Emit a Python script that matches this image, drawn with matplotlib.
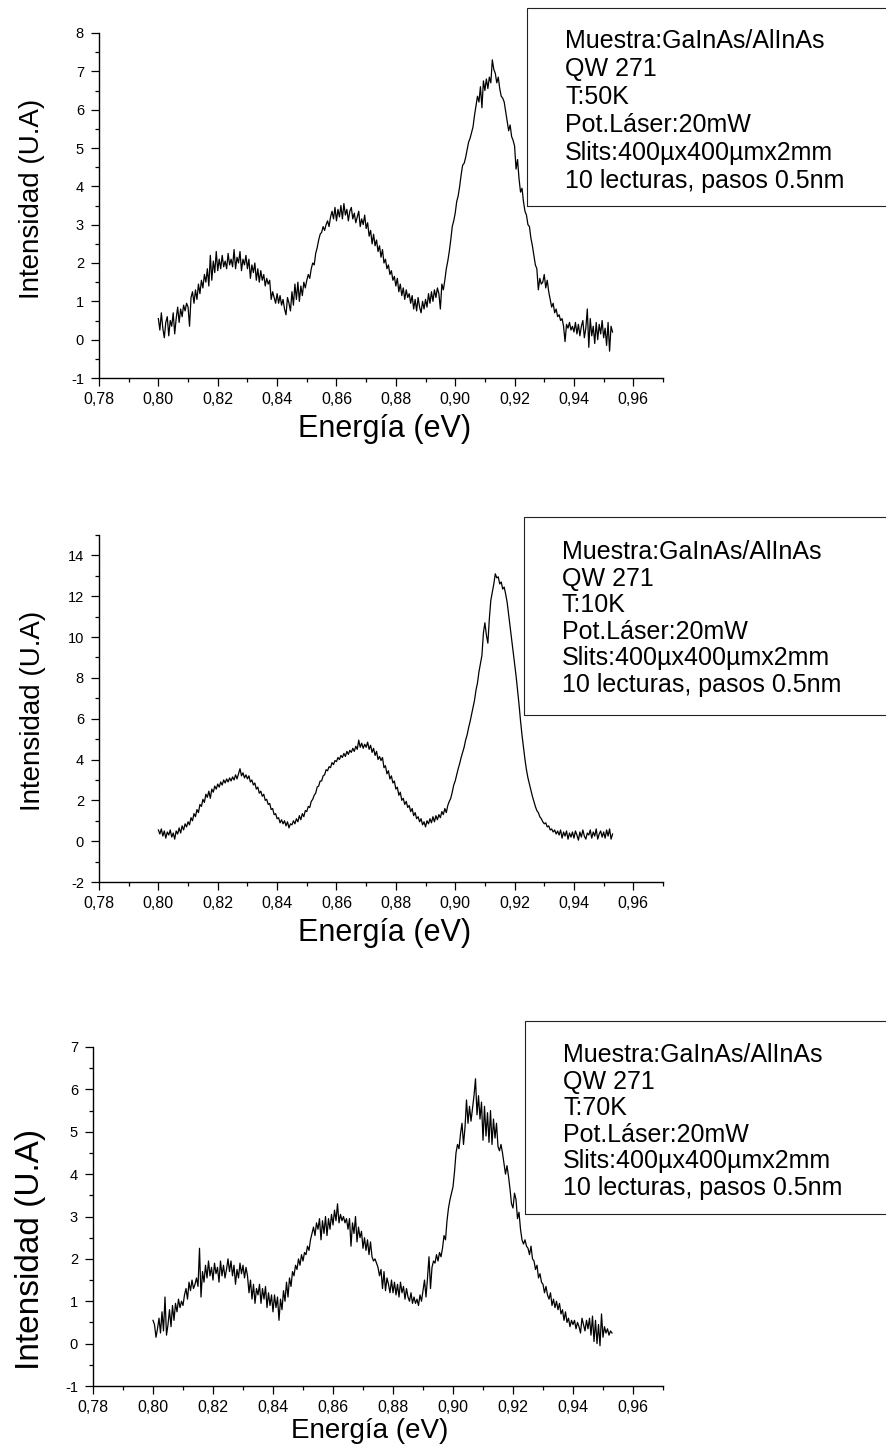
import numpy as np
import matplotlib
matplotlib.use("Agg")
import matplotlib.pyplot as plt
from matplotlib.ticker import MultipleLocator, FuncFormatter
from matplotlib.patches import Rectangle

plt.rcParams['font.family'] = ['Liberation Sans', 'DejaVu Sans']
plt.rcParams['axes.unicode_minus'] = False

W, H = 886, 1449

# eje de energía: 0.800 ... 0.953 eV, paso 0.5 meV
energia = np.round(np.linspace(0.800, 0.953, 307), 4)

int_50K = [
    0.55, 0.25, 0.70, 0.30, 0.05, 0.45, 0.60, 0.10, 0.50, 0.35,
    0.70, 0.15, 0.55, 0.85, 0.45, 0.80, 0.60, 0.90, 0.75, 0.95,
    0.85, 0.35, 1.10, 1.25, 0.95, 1.30, 1.05, 1.45, 1.20, 1.55,
    1.35, 1.70, 1.50, 1.85, 1.40, 2.20, 1.55, 2.05, 1.75, 2.30,
    1.80, 2.10, 1.85, 2.20, 1.90, 2.05, 1.85, 2.25, 1.95, 2.10,
    1.90, 2.35, 1.85, 2.15, 2.00, 2.30, 1.80, 2.10, 1.95, 2.20,
    1.85, 2.10, 1.60, 1.95, 1.75, 2.00, 1.55, 1.85, 1.50, 1.80,
    1.55, 1.70, 1.40, 1.60, 1.45, 1.55, 1.05, 1.25, 1.10, 0.95,
    1.20, 0.95, 1.15, 0.90, 1.05, 0.80, 0.65, 1.10, 0.95, 0.75,
    1.25, 0.90, 1.45, 1.05, 1.50, 1.00, 1.40, 1.15, 1.50, 1.35,
    1.55, 1.70, 1.60, 1.85, 2.00, 1.95, 2.25, 2.40, 2.60, 2.75,
    2.80, 2.95, 2.85, 3.00, 3.10, 2.95, 3.20, 3.35, 3.15, 3.45,
    3.10, 3.40, 3.20, 3.50, 3.15, 3.55, 3.25, 3.40, 3.10, 3.35,
    3.45, 3.15, 3.30, 3.05, 3.20, 3.35, 2.95, 3.15, 3.00, 3.25,
    2.90, 3.05, 2.70, 2.85, 2.50, 2.75, 2.45, 2.60, 2.30, 2.45,
    2.15, 2.35, 2.00, 2.10, 1.85, 1.95, 1.70, 1.80, 1.55, 1.65,
    1.40, 1.60, 1.25, 1.45, 1.15, 1.35, 1.05, 1.30, 1.10, 1.20,
    0.95, 1.15, 0.80, 1.05, 0.75, 1.10, 0.85, 0.70, 1.00, 0.80,
    1.05, 0.85, 1.20, 0.95, 1.25, 1.00, 1.30, 1.10, 1.35, 1.20,
    0.80, 1.45, 1.30, 1.55, 1.85, 2.05, 2.30, 2.60, 2.95, 3.10,
    3.30, 3.60, 3.75, 4.00, 4.30, 4.55, 4.60, 4.75, 4.95, 5.15,
    5.25, 5.40, 5.55, 5.85, 6.10, 6.35, 6.20, 6.60, 6.05, 6.75,
    6.50, 6.80, 6.55, 6.85, 6.70, 7.30, 7.05, 6.95, 6.70, 6.85,
    6.55, 6.35, 6.30, 6.20, 5.95, 5.70, 5.45, 5.60, 5.30, 5.20,
    5.05, 4.45, 4.70, 4.20, 3.85, 3.95, 3.60, 3.35, 3.25, 3.00,
    2.95, 2.65, 2.45, 2.20, 1.95, 1.85, 1.30, 1.60, 1.45, 1.50,
    1.70, 1.35, 1.55, 1.25, 1.05, 0.85, 0.95, 0.70, 0.80, 0.60,
    0.65, 0.50, 0.55, 0.35, -0.05, 0.40, 0.30, 0.45, 0.25, 0.35,
    0.20, 0.45, 0.15, 0.40, 0.10, 0.35, 0.50, 0.05, 0.30, 0.80,
    -0.20, 0.55, 0.10, 0.35, -0.10, 0.45, 0.00, 0.40, 0.15, 0.50,
    0.05, 0.30, -0.15, 0.45, -0.30, 0.35, 0.20,
]

int_10K = [
    0.55, 0.35, 0.60, 0.25, 0.50, 0.15, 0.45, 0.30, 0.55, 0.20,
    0.40, 0.10, 0.50, 0.35, 0.65, 0.40, 0.75, 0.55, 0.85, 0.70,
    0.95, 0.80, 1.15, 1.00, 1.35, 1.20, 1.55, 1.40, 1.80, 1.70,
    2.05, 1.90, 2.30, 2.15, 2.45, 2.10, 2.55, 2.40, 2.70, 2.55,
    2.80, 2.65, 2.90, 2.75, 3.00, 2.85, 3.05, 2.90, 3.10, 2.95,
    3.15, 3.00, 3.25, 3.05, 3.30, 3.55, 3.20, 3.35, 3.10, 3.25,
    3.05, 3.20, 2.90, 3.00, 2.75, 2.85, 2.55, 2.65, 2.35, 2.45,
    2.20, 2.30, 2.00, 2.05, 1.80, 1.85, 1.55, 1.60, 1.30, 1.35,
    1.10, 1.15, 0.90, 1.05, 0.85, 1.00, 0.75, 0.95, 0.65, 0.85,
    0.80, 1.00, 0.85, 1.10, 0.95, 1.25, 1.05, 1.35, 1.20, 1.50,
    1.45, 1.70, 1.65, 1.95, 2.05, 2.25, 2.35, 2.65, 2.70, 2.95,
    2.95, 3.20, 3.25, 3.50, 3.45, 3.65, 3.60, 3.85, 3.75, 3.95,
    3.90, 4.10, 4.00, 4.20, 4.10, 4.30, 4.15, 4.40, 4.25, 4.45,
    4.35, 4.55, 4.40, 4.65, 4.50, 4.95, 4.60, 4.80, 4.55, 4.75,
    4.60, 4.85, 4.50, 4.70, 4.35, 4.55, 4.20, 4.40, 4.00, 4.15,
    3.95, 4.10, 3.60, 3.70, 3.30, 3.45, 3.05, 3.20, 2.85, 2.95,
    2.55, 2.65, 2.25, 2.40, 2.00, 2.10, 1.80, 1.95, 1.65, 1.75,
    1.45, 1.60, 1.25, 1.40, 1.10, 1.20, 0.95, 1.10, 0.80, 0.95,
    0.70, 1.00, 0.85, 1.10, 0.90, 1.20, 0.95, 1.25, 1.05, 1.30,
    1.15, 1.45, 1.30, 1.60, 1.40, 1.75, 1.95, 2.10, 2.40, 2.75,
    2.95, 3.25, 3.55, 3.80, 4.10, 4.35, 4.60, 4.95, 5.20, 5.55,
    5.85, 6.20, 6.55, 6.90, 7.40, 7.75, 8.30, 8.70, 9.10, 10.20,
    10.70, 10.10, 9.70, 10.90, 11.80, 12.20, 12.60, 13.10, 12.90, 12.95,
    12.60, 12.70, 12.35, 12.45, 12.10, 11.70, 11.10, 10.50, 9.90, 9.30,
    8.70, 8.10, 7.40, 6.70, 5.90, 5.20, 4.60, 4.00, 3.50, 3.10,
    2.80, 2.50, 2.20, 1.95, 1.70, 1.50, 1.40, 1.20, 1.10, 0.95,
    0.85, 0.90, 0.70, 0.75, 0.55, 0.60, 0.45, 0.55, 0.35, 0.50,
    0.30, 0.55, 0.15, 0.45, 0.25, 0.50, 0.10, 0.40, 0.20, 0.45,
    0.15, 0.50, 0.30, 0.05, 0.45, 0.20, 0.55, 0.25, 0.10, 0.40,
    0.30, 0.55, 0.15, 0.45, 0.25, 0.60, 0.10, 0.35, 0.50, 0.20,
    0.45, 0.15, 0.55, 0.25, 0.60, 0.10, 0.35,
]

int_70K = [
    0.55, 0.45, 0.15, 0.35, 0.60, 0.25, 0.75, 0.30, 1.10, 0.20,
    0.45, 0.80, 0.40, 0.90, 0.55, 0.95, 0.75, 1.05, 0.85, 1.00,
    0.90, 1.15, 1.30, 1.05, 1.45, 1.25, 1.50, 1.30, 1.40, 1.55,
    1.35, 2.25, 1.10, 1.70, 1.45, 1.85, 1.55, 1.95, 1.60, 1.80,
    1.50, 1.90, 1.65, 1.80, 1.45, 1.95, 1.60, 1.85, 1.55, 1.75,
    2.00, 1.70, 1.95, 1.60, 1.85, 1.40, 1.75, 1.55, 1.90, 1.65,
    1.85, 1.55, 1.80, 1.60, 1.20, 1.50, 1.05, 1.40, 0.95, 1.30,
    1.15, 1.40, 0.95, 1.30, 1.05, 1.35, 0.85, 1.20, 0.90, 1.15,
    0.75, 1.15, 0.85, 1.10, 0.55, 1.05, 0.80, 1.25, 1.00, 1.45,
    1.10, 1.55, 1.35, 1.70, 1.60, 1.85, 1.75, 2.00, 1.85, 2.10,
    1.95, 2.15, 2.10, 2.30, 2.20, 2.45, 2.60, 2.75, 2.55, 2.85,
    2.70, 2.95, 2.45, 2.90, 2.60, 3.00, 2.55, 2.95, 2.70, 3.05,
    2.80, 3.15, 2.90, 3.30, 2.85, 3.05, 2.90, 3.00, 2.85, 2.95,
    2.70, 2.95, 2.30, 2.85, 2.60, 3.00, 2.40, 2.75, 2.50, 2.65,
    2.25, 2.50, 2.20, 2.45, 2.10, 2.40, 2.05, 1.95, 2.00, 1.90,
    1.80, 1.60, 1.75, 1.30, 1.70, 1.25, 1.55, 1.40, 1.20, 1.50,
    1.20, 1.45, 1.15, 1.40, 1.10, 1.45, 1.20, 1.35, 1.05, 1.30,
    1.10, 1.00, 1.20, 0.95, 1.10, 0.95, 1.05, 0.90, 1.15, 1.00,
    1.25, 1.50, 1.10, 1.55, 2.05, 1.30, 1.80, 1.95, 1.90, 2.10,
    1.95, 2.15, 2.05, 2.25, 2.55, 2.45, 2.90, 3.20, 3.40, 3.55,
    3.70, 4.05, 4.50, 4.70, 4.60, 4.95, 5.20, 4.70, 5.10, 5.75,
    5.20, 5.60, 5.25, 5.55, 5.85, 6.25, 5.40, 5.85, 5.30, 5.70,
    4.80, 5.60, 4.90, 5.45, 4.75, 5.50, 4.70, 5.30, 4.85, 5.20,
    4.65, 4.55, 4.70, 4.50, 4.25, 4.00, 4.20, 3.95, 3.65, 3.30,
    3.20, 3.55, 3.40, 2.95, 3.10, 2.70, 2.45, 2.35, 2.45, 2.30,
    2.25, 2.10, 2.30, 2.00, 1.95, 1.75, 1.85, 1.55, 1.65, 1.45,
    1.40, 1.20, 1.35, 1.15, 1.05, 1.20, 0.90, 1.05, 0.85, 1.00,
    0.80, 0.95, 0.70, 0.80, 0.55, 0.75, 0.50, 0.60, 0.40, 0.55,
    0.45, 0.55, 0.35, 0.50, 0.40, 0.25, 0.60, 0.45, 0.30, 0.55,
    0.35, 0.60, 0.20, 0.65, 0.05, 0.55, 0.00, 0.45, -0.05, 0.70,
    0.15, 0.40, 0.25, 0.35, 0.20, 0.30, 0.25,
]

temperaturas = ["50K", "10K", "70K"]
info = ["Muestra:GaInAs/AlInAs", "QW 271", "T:{}", "Pot.Láser:20mW",
        "Slits:400µx400µmx2mm", "10 lecturas, pasos 0.5nm"]

# disposición en píxeles (x izq, y arriba, x der, y abajo)
paneles = [
    dict(y=int_50K, ax=(99, 33, 663, 378), ylim=(-1, 8), ymaj=1, ymin=0.5,
         caja=(527, 8, 206), tx=565, base=48, paso=28,
         ylab=(-0.119, 0.520), yfs=20, xlab=(0.507, -0.148), xfs=22),
    dict(y=int_10K, ax=(99, 535, 663, 882), ylim=(-2, 15), ymaj=2, ymin=1,
         caja=(524, 517, 715), tx=562, base=559, paso=26.6,
         ylab=(-0.117, 0.493), yfs=20, xlab=(0.507, -0.148), xfs=22),
    dict(y=int_70K, ax=(93, 1047, 663, 1386), ylim=(-1, 7), ymaj=1, ymin=0.5,
         caja=(525, 1021, 1214), tx=563, base=1062, paso=26.6,
         ylab=(-0.110, 0.404), yfs=24, xlab=(0.486, -0.133), xfs=20),
]

fig = plt.figure(figsize=(W / 100, H / 100), dpi=100)

coma = FuncFormatter(lambda v, pos: f"{v:.2f}".replace(".", ","))

for p, temp in zip(paneles, temperaturas):
    x0, y0, x1, y1 = p["ax"]
    ax = fig.add_axes([x0 / W, 1 - y1 / H, (x1 - x0) / W, (y1 - y0) / H])
    ax.plot(energia, p["y"], color="black", lw=0.9)

    ax.set_xlim(0.78, 0.97)
    ax.set_ylim(*p["ylim"])
    ax.xaxis.set_major_locator(MultipleLocator(0.02))
    ax.xaxis.set_minor_locator(MultipleLocator(0.01))
    ax.xaxis.set_major_formatter(coma)
    ax.yaxis.set_major_locator(MultipleLocator(p["ymaj"]))
    ax.yaxis.set_minor_locator(MultipleLocator(p["ymin"]))

    for s in ("top", "right"):
        ax.spines[s].set_visible(False)
    for s in ("left", "bottom"):
        ax.spines[s].set_linewidth(1.0)

    ax.tick_params(which="major", direction="out", length=5.8, width=0.9)
    ax.tick_params(which="minor", direction="out", length=3.0, width=0.9)
    ax.tick_params(axis="x", labelsize=11.5, pad=4)
    ax.tick_params(axis="y", labelsize=10.5, pad=5)

    ax.set_xlabel("Energía (eV)", fontsize=p["xfs"], va="center")
    ax.xaxis.set_label_coords(*p["xlab"])
    ax.set_ylabel("Intensidad (U.A)", fontsize=p["yfs"], va="center")
    ax.yaxis.set_label_coords(*p["ylab"])

    cx, ctop, cbot = p["caja"]
    fig.add_artist(Rectangle((cx / W, 1 - cbot / H), (892 - cx) / W, (cbot - ctop) / H,
                             transform=fig.transFigure, fill=False,
                             lw=0.8, ec="#222222", clip_on=False))
    for i, linea in enumerate(info):
        fig.text(p["tx"] / W, 1 - (p["base"] + i * p["paso"]) / H,
                 linea.format(temp), fontsize=18, ha="left", va="baseline")

fig.savefig("out.png", dpi=100)
